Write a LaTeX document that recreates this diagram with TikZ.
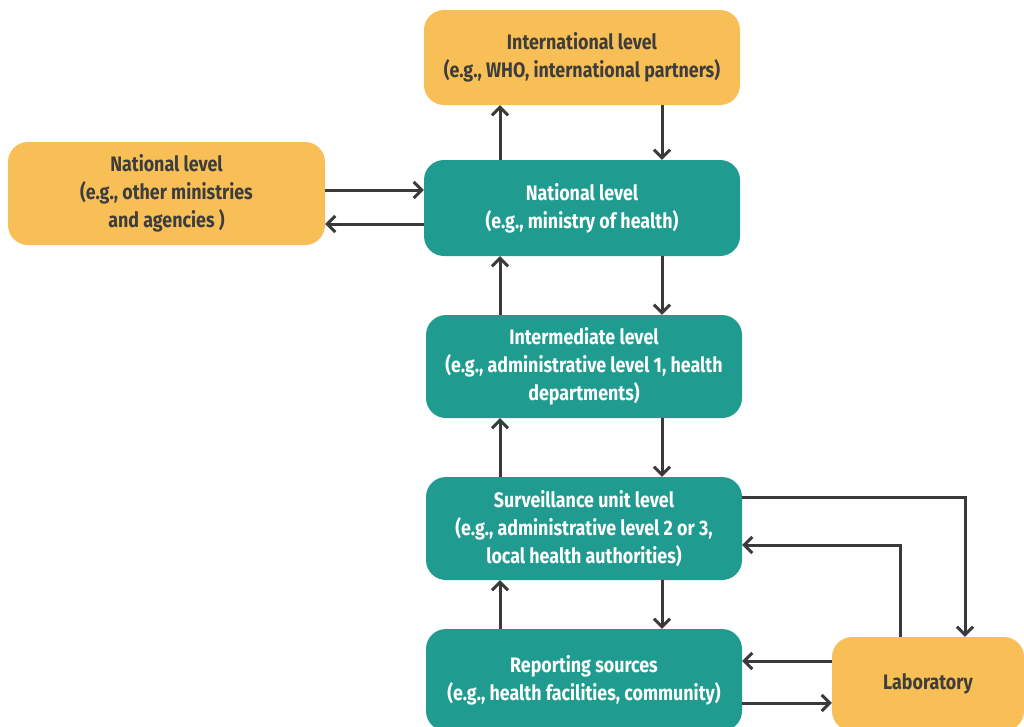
\documentclass[tikz,border=0pt]{standalone}
\usepackage{fontspec}
\setmainfont{Fira Sans}[FakeStretch=0.85]
\usetikzlibrary{arrows.meta}
\definecolor{orangebox}{HTML}{F8BF57}
\definecolor{tealbox}{HTML}{1F9B90}
\definecolor{arrowgray}{HTML}{3A3A3A}
\definecolor{darktext}{HTML}{3D3D3D}
\tikzset{
  box/.style={rounded corners=20pt, inner sep=0pt, align=center,
    font=\fontsize{21}{28}\selectfont\bfseries},
  obox/.style={box, fill=orangebox, text=darktext},
  tbox/.style={box, fill=tealbox, text=white},
  arr/.style={draw=arrowgray, line width=3pt,
    -{Straight Barb[length=8pt,width=16pt,line width=3pt]}}
}
\begin{document}
\begin{tikzpicture}[x=1pt,y=-1pt]
\useasboundingbox (0,0) rectangle (1024,726);
\node[obox, minimum width=316pt, minimum height=95pt] (intl) at (582,57.5)
  {International level\\(e.g., WHO, international partners)};
\node[obox, minimum width=317pt, minimum height=103pt] (natl) at (166.5,193.5)
  {National level\\(e.g., other ministries\\and agencies )};
\node[tbox, minimum width=316pt, minimum height=96pt] (moh) at (582,208)
  {National level\\(e.g., ministry of health)};
\node[tbox, minimum width=316pt, minimum height=103pt] (inter) at (584,366.5)
  {Intermediate level\\(e.g., administrative level 1, health\\departments)};
\node[tbox, minimum width=316pt, minimum height=103pt] (surv) at (584,528.5)
  {Surveillance unit level\\(e.g., administrative level 2 or 3,\\local health authorities)};
\node[tbox, minimum width=316pt, minimum height=102pt] (rep) at (584,680)
  {Reporting sources\\(e.g., health facilities, community)};
\node[obox, minimum width=192pt, minimum height=94pt] (lab) at (928,684)
  {Laboratory};
\coordinate (xL) at (500,0);
\coordinate (xR) at (662,0);
\coordinate (yA) at (0,190);
\coordinate (yB) at (0,224);
\coordinate (yC) at (0,661);
\coordinate (yD) at (0,703);
\coordinate (labL) at (965,497);
\coordinate (labR) at (900,545);
% vertical pairs
\draw[arr] (moh.north -| xL) -- (intl.south -| xL);
\draw[arr] (intl.south -| xR) -- (moh.north -| xR);
\draw[arr] (inter.north -| xL) -- (moh.south -| xL);
\draw[arr] (moh.south -| xR) -- (inter.north -| xR);
\draw[arr] (surv.north -| xL) -- (inter.south -| xL);
\draw[arr] (inter.south -| xR) -- (surv.north -| xR);
\draw[arr] (rep.north -| xL) -- (surv.south -| xL);
\draw[arr] (surv.south -| xR) -- (rep.north -| xR);
% national side
\draw[arr] (natl.east |- yA) -- (moh.west |- yA);
\draw[arr] (moh.west |- yB) -- (natl.east |- yB);
% laboratory
\draw[arr] (surv.east |- labL) -| (lab.north -| labL);
\draw[arr] (lab.north -| labR) |- (surv.east |- labR);
\draw[arr] (lab.west |- yC) -- (rep.east |- yC);
\draw[arr] (rep.east |- yD) -- (lab.west |- yD);
\end{tikzpicture}
\end{document}
